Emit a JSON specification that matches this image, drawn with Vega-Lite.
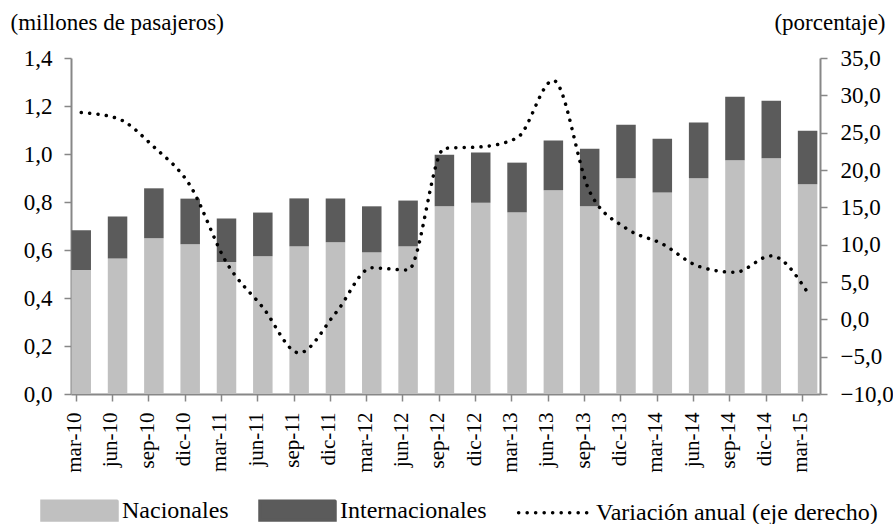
{
  "$schema": "https://vega.github.io/schema/vega-lite/v6.json",
  "autosize": {"type": "none"},
  "padding": {"left": 71, "top": 58, "right": 73, "bottom": 130},
  "width": 749,
  "height": 336,
  "background": "white",
  "config": {
    "view": {"stroke": null},
    "font": "Liberation Serif",
    "style": {
      "guide-label": {"font": "Liberation Serif", "fill": "#000000"},
      "guide-title": {"font": "Liberation Serif", "fill": "#000000", "fontWeight": "normal"}
    },
    "axis": {
      "domainColor": "#878787",
      "domainWidth": 2,
      "tickColor": "#878787",
      "tickWidth": 1.5,
      "tickSize": 7,
      "grid": false,
      "labelFont": "Liberation Serif",
      "titleFont": "Liberation Serif"
    }
  },
  "datasets": {
    "pasajeros": [
      {"i": 0, "fecha": "mar-10", "serie": "Nacionales", "orden": 1, "valor": 0.517},
      {"i": 0, "fecha": "mar-10", "serie": "Internacionales", "orden": 2, "valor": 0.165},
      {"i": 1, "fecha": "jun-10", "serie": "Nacionales", "orden": 1, "valor": 0.565},
      {"i": 1, "fecha": "jun-10", "serie": "Internacionales", "orden": 2, "valor": 0.175},
      {"i": 2, "fecha": "sep-10", "serie": "Nacionales", "orden": 1, "valor": 0.649},
      {"i": 2, "fecha": "sep-10", "serie": "Internacionales", "orden": 2, "valor": 0.208},
      {"i": 3, "fecha": "dic-10", "serie": "Nacionales", "orden": 1, "valor": 0.624},
      {"i": 3, "fecha": "dic-10", "serie": "Internacionales", "orden": 2, "valor": 0.190},
      {"i": 4, "fecha": "mar-11", "serie": "Nacionales", "orden": 1, "valor": 0.550},
      {"i": 4, "fecha": "mar-11", "serie": "Internacionales", "orden": 2, "valor": 0.181},
      {"i": 5, "fecha": "jun-11", "serie": "Nacionales", "orden": 1, "valor": 0.574},
      {"i": 5, "fecha": "jun-11", "serie": "Internacionales", "orden": 2, "valor": 0.182},
      {"i": 6, "fecha": "sep-11", "serie": "Nacionales", "orden": 1, "valor": 0.615},
      {"i": 6, "fecha": "sep-11", "serie": "Internacionales", "orden": 2, "valor": 0.200},
      {"i": 7, "fecha": "dic-11", "serie": "Nacionales", "orden": 1, "valor": 0.632},
      {"i": 7, "fecha": "dic-11", "serie": "Internacionales", "orden": 2, "valor": 0.183},
      {"i": 8, "fecha": "mar-12", "serie": "Nacionales", "orden": 1, "valor": 0.590},
      {"i": 8, "fecha": "mar-12", "serie": "Internacionales", "orden": 2, "valor": 0.192},
      {"i": 9, "fecha": "jun-12", "serie": "Nacionales", "orden": 1, "valor": 0.615},
      {"i": 9, "fecha": "jun-12", "serie": "Internacionales", "orden": 2, "valor": 0.191},
      {"i": 10, "fecha": "sep-12", "serie": "Nacionales", "orden": 1, "valor": 0.782},
      {"i": 10, "fecha": "sep-12", "serie": "Internacionales", "orden": 2, "valor": 0.215},
      {"i": 11, "fecha": "dic-12", "serie": "Nacionales", "orden": 1, "valor": 0.797},
      {"i": 11, "fecha": "dic-12", "serie": "Internacionales", "orden": 2, "valor": 0.209},
      {"i": 12, "fecha": "mar-13", "serie": "Nacionales", "orden": 1, "valor": 0.757},
      {"i": 12, "fecha": "mar-13", "serie": "Internacionales", "orden": 2, "valor": 0.207},
      {"i": 13, "fecha": "jun-13", "serie": "Nacionales", "orden": 1, "valor": 0.849},
      {"i": 13, "fecha": "jun-13", "serie": "Internacionales", "orden": 2, "valor": 0.207},
      {"i": 14, "fecha": "sep-13", "serie": "Nacionales", "orden": 1, "valor": 0.782},
      {"i": 14, "fecha": "sep-13", "serie": "Internacionales", "orden": 2, "valor": 0.240},
      {"i": 15, "fecha": "dic-13", "serie": "Nacionales", "orden": 1, "valor": 0.899},
      {"i": 15, "fecha": "dic-13", "serie": "Internacionales", "orden": 2, "valor": 0.223},
      {"i": 16, "fecha": "mar-14", "serie": "Nacionales", "orden": 1, "valor": 0.840},
      {"i": 16, "fecha": "mar-14", "serie": "Internacionales", "orden": 2, "valor": 0.224},
      {"i": 17, "fecha": "jun-14", "serie": "Nacionales", "orden": 1, "valor": 0.899},
      {"i": 17, "fecha": "jun-14", "serie": "Internacionales", "orden": 2, "valor": 0.232},
      {"i": 18, "fecha": "sep-14", "serie": "Nacionales", "orden": 1, "valor": 0.974},
      {"i": 18, "fecha": "sep-14", "serie": "Internacionales", "orden": 2, "valor": 0.265},
      {"i": 19, "fecha": "dic-14", "serie": "Nacionales", "orden": 1, "valor": 0.982},
      {"i": 19, "fecha": "dic-14", "serie": "Internacionales", "orden": 2, "valor": 0.240},
      {"i": 20, "fecha": "mar-15", "serie": "Nacionales", "orden": 1, "valor": 0.874},
      {"i": 20, "fecha": "mar-15", "serie": "Internacionales", "orden": 2, "valor": 0.223}
    ],
    "variacion": [
      {"i": 0, "fecha": "mar-10", "variacion": 27.7},
      {"i": 1, "fecha": "jun-10", "variacion": 26.9},
      {"i": 2, "fecha": "sep-10", "variacion": 23.1},
      {"i": 3, "fecha": "dic-10", "variacion": 17.9},
      {"i": 4, "fecha": "mar-11", "variacion": 7.6},
      {"i": 5, "fecha": "jun-11", "variacion": 1.6},
      {"i": 6, "fecha": "sep-11", "variacion": -4.5},
      {"i": 7, "fecha": "dic-11", "variacion": 0.8},
      {"i": 8, "fecha": "mar-12", "variacion": 6.9},
      {"i": 9, "fecha": "jun-12", "variacion": 6.6},
      {"i": 10, "fecha": "sep-12", "variacion": 22.9},
      {"i": 11, "fecha": "dic-12", "variacion": 23.1},
      {"i": 12, "fecha": "mar-13", "variacion": 24.3},
      {"i": 13, "fecha": "jun-13", "variacion": 32.0},
      {"i": 14, "fecha": "sep-13", "variacion": 17.1},
      {"i": 15, "fecha": "dic-13", "variacion": 12.2},
      {"i": 16, "fecha": "mar-14", "variacion": 10.1},
      {"i": 17, "fecha": "jun-14", "variacion": 7.1},
      {"i": 18, "fecha": "sep-14", "variacion": 6.3},
      {"i": 19, "fecha": "dic-14", "variacion": 8.5},
      {"i": 20, "fecha": "mar-15", "variacion": 3.6}
    ]
  },
  "encoding": {
    "x": {
      "field": "i",
      "type": "quantitative",
      "scale": {"domain": [-0.144, 20.204], "nice": false, "zero": false},
      "axis": {
        "title": null,
        "values": [0, 1, 2, 3, 4, 5, 6, 7, 8, 9, 10, 11, 12, 13, 14, 15, 16, 17, 18, 19, 20],
        "labelExpr": "['mar-10','jun-10','sep-10','dic-10','mar-11','jun-11','sep-11','dic-11','mar-12','jun-12','sep-12','dic-12','mar-13','jun-13','sep-13','dic-13','mar-14','jun-14','sep-14','dic-14','mar-15'][datum.value]",
        "labelAngle": 270,
        "labelAlign": "right",
        "labelBaseline": "middle",
        "labelFont": "Liberation Serif",
        "labelFontSize": 21,
        "labelColor": "#000000",
        "labelPadding": 11,
        "tickOffset": -5.6,
        "labelOffset": -1,
        "labelOverlap": false,
        "labelFlush": false,
        "labelBound": false,
        "encode": {"labels": {"update": {"font": {"value": "Liberation Serif"}}}}
      }
    }
  },
  "layer": [
    {
      "data": {"name": "pasajeros"},
      "mark": {"type": "bar", "width": 19.5, "clip": true},
      "encoding": {
        "y": {
          "field": "valor",
          "type": "quantitative",
          "stack": "zero",
          "scale": {"domain": [0, 1.4], "nice": false},
          "axis": {
            "orient": "left",
            "values": [0, 0.2, 0.4, 0.6, 0.8, 1.0, 1.2, 1.4],
            "labelExpr": "replace(format(datum.value, '.1f'), '.', ',')",
            "labelFont": "Liberation Serif",
            "labelFontSize": 23,
            "labelColor": "#000000",
            "labelPadding": 12,
            "title": "(millones de pasajeros)",
            "titleFont": "Liberation Serif",
            "titleFontSize": 23,
            "titleFontWeight": "normal",
            "titleColor": "#000000",
            "titleAngle": 0,
            "titleAlign": "left",
            "titleBaseline": "middle",
            "titleX": -61,
            "titleY": -36,
            "encode": {
              "labels": {"update": {"font": {"value": "Liberation Serif"}}},
              "title": {"update": {"font": {"value": "Liberation Serif"}}}
            }
          }
        },
        "order": {"field": "orden", "type": "quantitative"},
        "color": {
          "field": "serie",
          "type": "nominal",
          "scale": {
            "domain": ["Nacionales", "Internacionales", "Variación anual (eje derecho)"],
            "range": ["#c0c0c0", "#5b5b5b", "#000000"]
          },
          "legend": {
            "orient": "none",
            "legendX": -31,
            "legendY": 413,
            "direction": "horizontal",
            "title": null,
            "padding": 0,
            "symbolSize": 5625,
            "labelFont": "Liberation Serif",
            "labelFontSize": 24,
            "labelColor": "#000000",
            "labelOffset": 3,
            "labelLimit": 400,
            "columnPadding": 24,
            "encode": {
              "symbols": {
                "update": {
                  "shape": {"signal": "datum.value === 'Variación anual (eje derecho)' ? 'M-0.93,0H0.93' : 'M-1,-0.25H1V0.25H-1Z'"},
                  "fill": {"signal": "datum.value === 'Nacionales' ? '#c0c0c0' : (datum.value === 'Internacionales' ? '#5b5b5b' : 'transparent')"},
                  "stroke": {"signal": "datum.value === 'Variación anual (eje derecho)' ? '#000000' : 'transparent'"},
                  "strokeWidth": {"value": 3.5},
                  "strokeDash": {"signal": "datum.value === 'Variación anual (eje derecho)' ? [0.1, 8.4] : [1, 0]"},
                  "strokeCap": {"value": "round"},
                  "opacity": {"value": 1}
                }
              }
            }
          }
        }
      }
    },
    {
      "data": {"name": "variacion"},
      "mark": {"type": "line", "interpolate": "monotone", "strokeWidth": 3.5, "strokeDash": [0.1, 8.3], "strokeCap": "round", "clip": true},
      "encoding": {
        "y": {
          "field": "variacion",
          "type": "quantitative",
          "scale": {"domain": [-10, 35], "nice": false, "zero": false},
          "axis": {
            "orient": "right",
            "values": [-10, -5, 0, 5, 10, 15, 20, 25, 30, 35],
            "labelExpr": "replace(format(datum.value, '.1f'), '.', ',')",
            "labelFont": "Liberation Serif",
            "labelFontSize": 23,
            "labelColor": "#000000",
            "labelPadding": 13,
            "title": "(porcentaje)",
            "titleFont": "Liberation Serif",
            "titleFontSize": 23,
            "titleFontWeight": "normal",
            "titleColor": "#000000",
            "titleAngle": 0,
            "titleAlign": "right",
            "titleBaseline": "middle",
            "titleX": 65,
            "titleY": -36,
            "encode": {
              "labels": {"update": {"font": {"value": "Liberation Serif"}}},
              "title": {"update": {"font": {"value": "Liberation Serif"}}}
            }
          }
        },
        "color": {"datum": "Variación anual (eje derecho)", "type": "nominal"}
      }
    }
  ],
  "resolve": {"scale": {"y": "independent"}, "axis": {"y": "independent"}}
}
